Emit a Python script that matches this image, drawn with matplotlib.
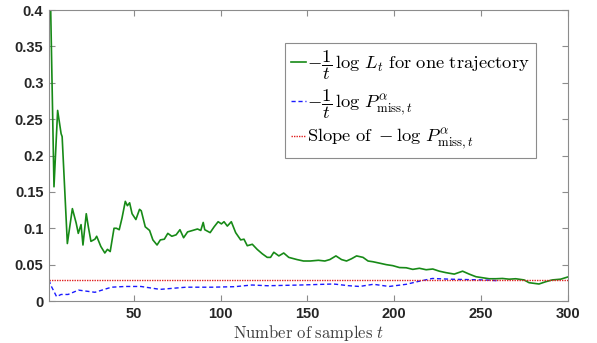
import matplotlib
matplotlib.use('Agg')
import matplotlib.pyplot as plt
import matplotlib.ticker as ticker

plt.rcParams['mathtext.fontset'] = 'cm'

# green: -1/t log L_t for one trajectory
t_green = [1, 2, 3.9, 6, 8, 8.6, 11.6, 14.5, 16.7, 17.9, 19.5, 20.6, 22.5, 23.7, 25.2,
           27.5, 28.5, 30.9, 33.2, 34.7, 36.3, 38.5, 39.9, 41.5, 43.1, 45, 46.2, 47.5,
           48.9, 51.1, 53.2, 54.2, 56.5, 59, 60.9, 63.3, 65.2, 67.5, 69.5, 71.8, 74.3,
           76.5, 78.6, 80.9, 83.8, 86.6, 88.5, 89.9, 90.8, 93.9, 96.2, 98.5, 100.4,
           101.9, 103.8, 106.1, 108.6, 111.5, 113.4, 115.3, 118.2, 121, 123.9, 126.8,
           128.7, 130.6, 133.5, 136.3, 139.2, 143.9, 147.7, 151.6, 156.3, 160, 162.9,
           166.4, 169.6, 172.5, 175.3, 178.3, 182, 184.9, 187.7, 191.6, 195.4, 199.2,
           203, 206.9, 210.7, 214.5, 218.4, 222.2, 226, 229.8, 234.6, 239.4, 243.2,
           247.1, 250.9, 254.7, 258.6, 262.4, 266.2, 270, 274.8, 277.7, 283.4, 287.3,
           291.1, 295.9, 300]
v_green = [0.45, 0.40, 0.157, 0.262, 0.230, 0.226, 0.079, 0.127, 0.107, 0.093, 0.105,
           0.077, 0.120, 0.102, 0.082, 0.085, 0.089, 0.075, 0.066, 0.071, 0.068, 0.100,
           0.100, 0.098, 0.114, 0.137, 0.131, 0.135, 0.120, 0.112, 0.126, 0.124, 0.102,
           0.097, 0.084, 0.077, 0.084, 0.085, 0.093, 0.089, 0.091, 0.098, 0.087, 0.095,
           0.097, 0.099, 0.097, 0.108, 0.098, 0.094, 0.102, 0.109, 0.106, 0.109, 0.103,
           0.109, 0.094, 0.084, 0.085, 0.076, 0.078, 0.071, 0.065, 0.060, 0.060, 0.067,
           0.062, 0.066, 0.060, 0.057, 0.055, 0.055, 0.056, 0.055, 0.057, 0.062, 0.057,
           0.055, 0.058, 0.062, 0.060, 0.055, 0.054, 0.052, 0.050, 0.0486, 0.046,
           0.0457, 0.0435, 0.045, 0.043, 0.044, 0.041, 0.039, 0.037, 0.041, 0.037,
           0.0334, 0.032, 0.0306, 0.0306, 0.031, 0.030, 0.0306, 0.029, 0.0252, 0.0234,
           0.0265, 0.029, 0.030, 0.033]

# blue: -1/t log P_miss,t
t_blue = [1, 2, 5.4, 8, 12, 18, 27.5, 37, 45, 54, 65, 80, 95, 108, 118, 127, 146, 165,
          174, 180, 188, 197, 207, 214, 222, 232, 251, 259]
v_blue = [0.029, 0.022, 0.006, 0.009, 0.009, 0.015, 0.012, 0.019, 0.020, 0.020, 0.016,
          0.019, 0.019, 0.0197, 0.022, 0.021, 0.022, 0.0234, 0.021, 0.020, 0.023, 0.020,
          0.023, 0.027, 0.031, 0.030, 0.029, 0.028]

# red: slope of -log P_miss,t
slope = 0.0289
t_red = [1, 300]

x_ticks = [50, 100, 150, 200, 250, 300]
y_ticks = [0, 0.05, 0.1, 0.15, 0.2, 0.25, 0.3, 0.35, 0.4]

fig = plt.figure(figsize=(5.97, 3.43), dpi=100)
ax = fig.add_axes([0.082, 0.1224, 0.869, 0.8484])

ax.plot(t_green, v_green, color='#178a17', linewidth=1.2,
        label=r'$-\dfrac{1}{t}\,\log\, L_t\ \mathrm{for\ one\ trajectory}$')
ax.plot(t_blue, v_blue, color='#1a1aff', linewidth=1.0, linestyle=(0, (3, 2)),
        label=r'$-\dfrac{1}{t}\,\log\, P^{\alpha}_{\mathrm{miss},t}$')
ax.plot(t_red, [slope, slope], color='#e02020', linewidth=1.0, linestyle=(0, (1, 0.8)),
        label=r'$\mathrm{Slope\ of}\ -\log\, P^{\alpha}_{\mathrm{miss},t}$')

ax.set_xlim(1, 300)
ax.set_ylim(0, 0.4)
ax.set_xticks(x_ticks)
ax.set_yticks(y_ticks)
ax.yaxis.set_major_formatter(ticker.FuncFormatter(lambda y, p: '%g' % y))

for s in ax.spines.values():
    s.set_color('#8c8c8c')
    s.set_linewidth(0.8)
ax.tick_params(direction='in', top=True, right=True, length=4, width=0.8,
               color='#8c8c8c', labelcolor='#262626', pad=4)
for lab in ax.get_xticklabels() + ax.get_yticklabels():
    lab.set_fontfamily('Liberation Sans')
    lab.set_fontweight('bold')
    lab.set_fontsize(10.5)

ax.set_xlabel(r'$\mathrm{Number\ of\ samples}\ t$', fontsize=12, color='#404040', labelpad=2)

leg = ax.legend(loc='upper right', bbox_to_anchor=(0.938, 0.888), fontsize=13.3,
                handlelength=0.8, handletextpad=0.1, borderpad=0.3, labelspacing=0.3,
                fancybox=False, framealpha=1, edgecolor='#8c8c8c', borderaxespad=0)
leg.get_frame().set_linewidth(0.8)

fig.savefig('out.png', dpi=100)
